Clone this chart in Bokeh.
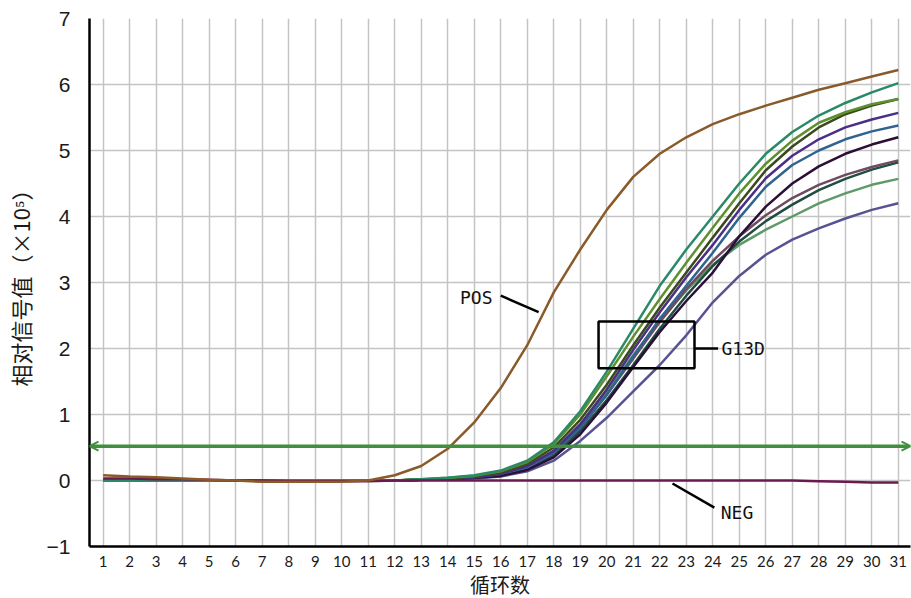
from bokeh.plotting import figure
from bokeh.models import FixedTicker, Arrow, OpenHead, Label, Range1d
from bokeh.embed import file_html
from bokeh.resources import INLINE

cycles = list(range(1, 32))
y_ticks = [-1, 0, 1, 2, 3, 4, 5, 6, 7]
threshold = 0.52

base = [0.0] * 12

pos = [0.08, 0.06, 0.05, 0.03, 0.01, 0.0, -0.02, -0.02, -0.02, -0.02, 0.0, 0.08,
       0.22, 0.48, 0.88, 1.4, 2.05, 2.85, 3.5, 4.1, 4.6, 4.95, 5.2, 5.4, 5.55,
       5.68, 5.8, 5.92, 6.02, 6.12, 6.22]

neg = [0.03, 0.03, 0.02, 0.02, 0.01, 0.0, 0.0, -0.01, -0.01, -0.01, -0.01, 0.0,
       0.0, 0.0, 0.0, 0.0, 0.0, 0.0, 0.0, 0.0, 0.0, 0.0, 0.0, 0.0, 0.0, 0.0, 0.0,
       -0.01, -0.02, -0.03, -0.03]

g_teal = base + [0.02, 0.04, 0.08, 0.15, 0.3, 0.58, 1.05, 1.65, 2.3, 2.95, 3.5,
                 4.0, 4.5, 4.95, 5.28, 5.53, 5.72, 5.88, 6.02]
g_olive = base + [0.02, 0.04, 0.07, 0.14, 0.28, 0.55, 1.0, 1.58, 2.18, 2.75, 3.3,
                  3.83, 4.35, 4.8, 5.15, 5.42, 5.58, 5.7, 5.78]
g_darkolive = base + [0.01, 0.03, 0.06, 0.12, 0.25, 0.5, 0.92, 1.45, 2.05, 2.62,
                      3.15, 3.68, 4.2, 4.7, 5.06, 5.35, 5.55, 5.68, 5.78]
g_purple = base + [0.01, 0.03, 0.05, 0.1, 0.22, 0.45, 0.85, 1.38, 1.98, 2.55, 3.08,
                   3.57, 4.1, 4.58, 4.92, 5.17, 5.35, 5.47, 5.57]
g_steel = base + [0.01, 0.03, 0.05, 0.1, 0.2, 0.42, 0.8, 1.3, 1.88, 2.45, 2.95,
                  3.45, 3.98, 4.45, 4.78, 5.0, 5.17, 5.29, 5.38]
g_darkpurple = base + [0.01, 0.02, 0.04, 0.07, 0.16, 0.35, 0.7, 1.18, 1.72, 2.25,
                       2.72, 3.15, 3.7, 4.15, 4.5, 4.76, 4.95, 5.09, 5.2]
g_mauve = base + [0.01, 0.02, 0.04, 0.09, 0.2, 0.42, 0.8, 1.3, 1.85, 2.4, 2.9,
                  3.33, 3.7, 4.02, 4.28, 4.48, 4.63, 4.75, 4.85]
g_darkteal = base + [0.01, 0.02, 0.04, 0.08, 0.18, 0.38, 0.75, 1.22, 1.75, 2.3,
                     2.8, 3.25, 3.62, 3.93, 4.18, 4.4, 4.57, 4.71, 4.82]
g_green = base + [0.01, 0.03, 0.05, 0.1, 0.22, 0.45, 0.85, 1.35, 1.9, 2.42, 2.88,
                  3.27, 3.57, 3.8, 4.0, 4.2, 4.35, 4.48, 4.57]
g_slate = base + [0.01, 0.02, 0.03, 0.06, 0.14, 0.3, 0.6, 0.95, 1.35, 1.75, 2.2,
                  2.7, 3.1, 3.42, 3.65, 3.82, 3.97, 4.1, 4.2]

g13d_series = [g_slate, g_green, g_darkteal, g_mauve, g_darkpurple, g_steel,
               g_purple, g_darkolive, g_olive, g_teal]
g13d_colors = ["#575291", "#5e9a68", "#1f4d40", "#6f4b5f", "#2b0f36", "#2f6390",
               "#4b2e86", "#3b4a1c", "#5f8f2f", "#2a8a68"]

# annotation positions (data units)
box_x = [19.69, 23.31]
box_y = [1.70, 2.41]
g13d_leader = ([23.31, 24.2], [2.0, 2.0])
pos_leader = ([16.0, 17.43], [2.8, 2.55])
neg_leader = ([22.48, 24.06], [-0.045, -0.41])

p = figure(frame_width=821, frame_height=528, output_backend="svg",
           toolbar_location=None,
           x_range=Range1d(0.483, 31.46), y_range=Range1d(-1, 7),
           min_border_left=81, min_border_right=1, min_border_top=18,
           min_border_bottom=48)
p.outline_line_color = None
p.background_fill_color = "white"

p.xaxis.ticker = FixedTicker(ticks=cycles)
p.yaxis.ticker = FixedTicker(ticks=y_ticks)
p.yaxis.major_label_overrides = {-1: "\u22121"}
p.xgrid.ticker = FixedTicker(ticks=cycles)
p.ygrid.ticker = FixedTicker(ticks=y_ticks)
p.grid.grid_line_color = "#c4c4c4"
p.grid.grid_line_width = 1.5

for ax in (p.xaxis[0], p.yaxis[0]):
    ax.axis_line_color = "black"
    ax.axis_line_width = 2.5
    ax.major_tick_line_color = None
    ax.minor_tick_line_color = None
    ax.major_label_text_color = "#1a1a1a"
    ax.axis_label_text_color = "#1a1a1a"
    ax.axis_label_text_font_style = "normal"
    ax.axis_label_text_font = "Noto Sans CJK SC"

p.yaxis.major_label_text_font = "Liberation Sans"
p.yaxis.major_label_text_font_size = "21px"
p.yaxis.major_label_standoff = 13
p.yaxis.axis_label = "相对信号值（×10⁵）"
p.yaxis.axis_label_text_font_size = "22px"
p.yaxis.axis_label_standoff = 8

p.xaxis.major_label_text_font = "Lato"
p.xaxis.major_label_text_font_size = "15px"
p.xaxis.major_label_standoff = 3
p.xaxis.axis_label = "循环数"
p.xaxis.axis_label_text_font_size = "20px"
p.xaxis.axis_label_standoff = 0

for ys, c in zip(g13d_series, g13d_colors):
    p.line(cycles, ys, line_color=c, line_width=2.5)

p.line(cycles, neg, line_color="#6a1b4d", line_width=2.5)
p.line(cycles, pos, line_color="#8a5a2a", line_width=2.5)

thr_color = "#3f8f3f"
p.add_layout(Arrow(start=OpenHead(size=9, line_color=thr_color, line_width=2),
                   end=OpenHead(size=9, line_color=thr_color, line_width=2),
                   x_start=p.x_range.start, x_end=p.x_range.end,
                   y_start=threshold, y_end=threshold,
                   line_color=thr_color, line_width=3.5))

# G13D box and leaders
p.quad(left=[box_x[0]], right=[box_x[1]], bottom=[box_y[0]], top=[box_y[1]],
       fill_color=None, line_color="black", line_width=2.5)
p.line(g13d_leader[0], g13d_leader[1], line_color="black", line_width=2.5)
p.line(pos_leader[0], pos_leader[1], line_color="black", line_width=2.5)
p.line(neg_leader[0], neg_leader[1], line_color="black", line_width=2.5)

lab_font = "DejaVu Sans Mono"
p.add_layout(Label(x=24.33, y=2.0, text="G13D", text_font=lab_font,
                   text_font_size="18px", text_baseline="middle",
                   text_align="left", text_color="#111111"))
p.add_layout(Label(x=15.69, y=2.77, text="POS", text_font=lab_font,
                   text_font_size="18px", text_baseline="middle",
                   text_align="right", text_color="#111111"))
p.add_layout(Label(x=24.3, y=-0.49, text="NEG", text_font=lab_font,
                   text_font_size="18px", text_baseline="middle",
                   text_align="left", text_color="#111111"))

open("out.html", "w").write(file_html(p, INLINE))
